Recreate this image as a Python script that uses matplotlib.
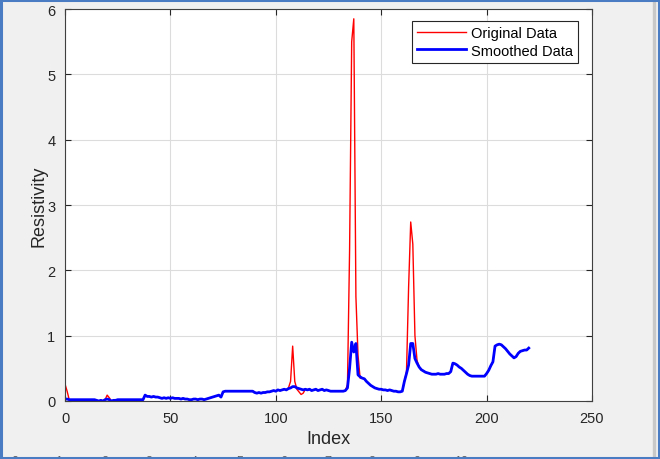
import numpy as np
import matplotlib
matplotlib.use("Agg")
import matplotlib.pyplot as plt
from matplotlib.patches import Rectangle

plt.rcParams['font.family'] = ['Liberation Sans', 'DejaVu Sans']

# values (index 0..220)
original = [
    0.26, 0.15, 0.02, 0.02, 0.02, 0.02, 0.02, 0.02, 0.02, 0.02,
    0.02, 0.02, 0.02, 0.02, 0.02, 0.01, 0.00, 0.01, 0.00, 0.02,
    0.09, 0.05, 0.00, 0.01, 0.01, 0.02, 0.02, 0.02, 0.02, 0.02,
    0.02, 0.02, 0.02, 0.02, 0.02, 0.02, 0.02, 0.02, 0.09, 0.07,
    0.07, 0.06, 0.07, 0.06, 0.06, 0.05, 0.04, 0.05, 0.04, 0.05,
    0.04, 0.05, 0.04, 0.04, 0.04, 0.03, 0.04, 0.03, 0.03, 0.02,
    0.02, 0.03, 0.03, 0.02, 0.03, 0.03, 0.02, 0.03, 0.04, 0.05,
    0.06, 0.07, 0.08, 0.09, 0.06, 0.14, 0.15, 0.15, 0.15, 0.15,
    0.15, 0.15, 0.15, 0.15, 0.15, 0.15, 0.15, 0.15, 0.15, 0.15,
    0.13, 0.12, 0.13, 0.12, 0.13, 0.13, 0.14, 0.14, 0.15, 0.16,
    0.15, 0.17, 0.16, 0.17, 0.18, 0.17, 0.20, 0.30, 0.84, 0.30,
    0.18, 0.14, 0.10, 0.12, 0.18, 0.17, 0.18, 0.16, 0.17, 0.18,
    0.16, 0.17, 0.18, 0.16, 0.17, 0.16, 0.15, 0.15, 0.15, 0.15,
    0.15, 0.15, 0.15, 0.16, 0.25, 2.30, 5.50, 5.85, 1.60, 0.70,
    0.35, 0.35, 0.34, 0.30, 0.27, 0.24, 0.22, 0.20, 0.19, 0.18,
    0.18, 0.17, 0.17, 0.16, 0.17, 0.16, 0.15, 0.15, 0.14, 0.14,
    0.15, 0.30, 0.45, 1.74, 2.74, 2.40, 1.00, 0.62, 0.52, 0.48,
    0.46, 0.44, 0.43, 0.42, 0.41, 0.41, 0.41, 0.42, 0.41, 0.41,
    0.41, 0.42, 0.42, 0.45, 0.58, 0.57, 0.55, 0.52, 0.50, 0.47,
    0.44, 0.41, 0.39, 0.38, 0.38, 0.38, 0.38, 0.38, 0.38, 0.38,
    0.42, 0.47, 0.54, 0.60, 0.84, 0.86, 0.87, 0.86, 0.83, 0.80,
    0.76, 0.72, 0.69, 0.66, 0.68, 0.73, 0.76, 0.77, 0.78, 0.78,
    0.81,
]

smoothed = [
    0.03, 0.03, 0.02, 0.02, 0.02, 0.02, 0.02, 0.02, 0.02, 0.02,
    0.02, 0.02, 0.02, 0.02, 0.02, 0.01, 0.00, 0.01, 0.00, 0.02,
    0.03, 0.02, 0.00, 0.01, 0.01, 0.02, 0.02, 0.02, 0.02, 0.02,
    0.02, 0.02, 0.02, 0.02, 0.02, 0.02, 0.02, 0.02, 0.09, 0.07,
    0.07, 0.06, 0.07, 0.06, 0.06, 0.05, 0.04, 0.05, 0.04, 0.05,
    0.04, 0.05, 0.04, 0.04, 0.04, 0.03, 0.04, 0.03, 0.03, 0.02,
    0.02, 0.03, 0.03, 0.02, 0.03, 0.03, 0.02, 0.03, 0.04, 0.05,
    0.06, 0.07, 0.08, 0.09, 0.06, 0.14, 0.15, 0.15, 0.15, 0.15,
    0.15, 0.15, 0.15, 0.15, 0.15, 0.15, 0.15, 0.15, 0.15, 0.15,
    0.13, 0.12, 0.13, 0.12, 0.13, 0.13, 0.14, 0.14, 0.15, 0.16,
    0.15, 0.17, 0.16, 0.17, 0.18, 0.17, 0.19, 0.20, 0.22, 0.22,
    0.20, 0.19, 0.18, 0.17, 0.18, 0.17, 0.18, 0.16, 0.17, 0.18,
    0.16, 0.17, 0.18, 0.16, 0.17, 0.16, 0.15, 0.15, 0.15, 0.15,
    0.15, 0.15, 0.15, 0.16, 0.20, 0.50, 0.90, 0.75, 0.88, 0.40,
    0.37, 0.35, 0.34, 0.30, 0.27, 0.24, 0.22, 0.20, 0.19, 0.18,
    0.18, 0.17, 0.17, 0.16, 0.17, 0.16, 0.15, 0.15, 0.14, 0.14,
    0.15, 0.30, 0.42, 0.55, 0.88, 0.88, 0.65, 0.58, 0.52, 0.48,
    0.46, 0.44, 0.43, 0.42, 0.41, 0.41, 0.41, 0.42, 0.41, 0.41,
    0.41, 0.42, 0.42, 0.45, 0.58, 0.57, 0.55, 0.52, 0.50, 0.47,
    0.44, 0.41, 0.39, 0.38, 0.38, 0.38, 0.38, 0.38, 0.38, 0.38,
    0.42, 0.47, 0.54, 0.60, 0.84, 0.86, 0.87, 0.86, 0.83, 0.80,
    0.76, 0.72, 0.69, 0.66, 0.68, 0.73, 0.76, 0.77, 0.78, 0.78,
    0.81,
]

index = np.arange(len(smoothed))
xticks = [0, 50, 100, 150, 200, 250]
yticks = [0, 1, 2, 3, 4, 5, 6]

fig = plt.figure(figsize=(6.6, 4.6), dpi=100, facecolor='#f0f0f0')
ax = fig.add_axes([65 / 660, 58 / 460, 527 / 660, 392 / 460])
ax.set_facecolor('white')

ax.plot(index, original, color=(1, 0, 0), lw=1.0, label='Original Data')
ax.plot(index, smoothed, color=(0, 0, 1), lw=2.0, label='Smoothed Data')

ax.set_xlim(0, 250)
ax.set_ylim(0, 6)
ax.set_xticks(xticks)
ax.set_yticks(yticks)
ax.grid(True, color='#dcdcdc', lw=0.8)
ax.set_axisbelow(True)
ax.tick_params(direction='in', top=True, right=True, length=4, width=0.8,
               colors='#262626', labelsize=10.5, pad=7)
for s in ax.spines.values():
    s.set_color('#404040')
    s.set_linewidth(0.8)

ax.set_xlabel('Index', fontsize=13, color='#262626', labelpad=4)
ax.set_ylabel('Resistivity', fontsize=13, color='#262626', labelpad=0)

leg = ax.legend(loc='upper right', bbox_to_anchor=(0.973, 0.97), borderaxespad=0,
                fontsize=10.5, fancybox=False, edgecolor='#262626', framealpha=1,
                handlelength=3.4, handletextpad=0.3, borderpad=0.35, labelspacing=0.25)
leg.get_frame().set_linewidth(0.8)

# screenshot frame bits
fig.patches.append(Rectangle((0.989, 0.0), 0.004, 1.0, transform=fig.transFigure,
                             color='#c8c8c8', zorder=0))
fig.patches.append(Rectangle((0.0015, 0.002), 0.997, 0.996, transform=fig.transFigure,
                             fill=False, edgecolor='#4a7cc4', lw=2.2, zorder=5))

# partly hidden labels of the window underneath
for i, xp in enumerate([15, 59, 105, 149, 194, 240, 284, 328, 372, 417, 461]):
    fig.text(xp / 660, -0.004, str(i), fontsize=9, color='#606060',
             ha='center', va='center')

fig.savefig('out.png', dpi=100, facecolor=fig.get_facecolor())
